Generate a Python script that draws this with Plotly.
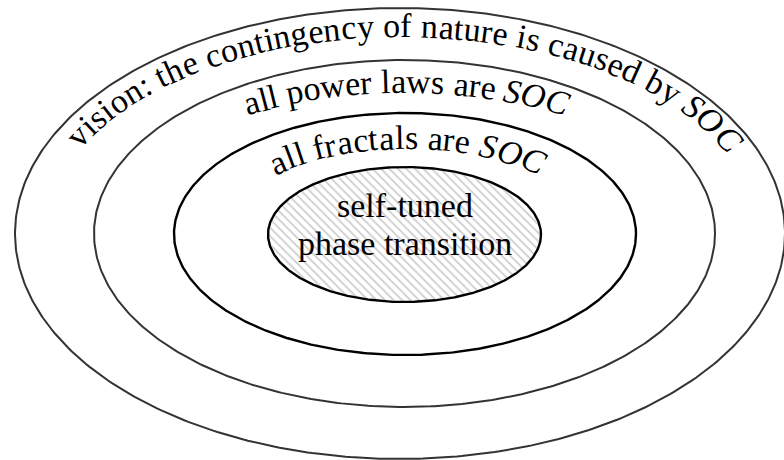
import numpy as np
import plotly.graph_objects as go

W, H = 784, 460

# ---- nested ellipses (drawing units = pixels of the canvas) ----
ELLIPSE_NAMES = ["vision", "power laws", "fractals", "self-tuned phase transition"]
ELLIPSE_CX = [400.0, 404.5, 405.0, 404.5]
ELLIPSE_CY = [233.5, 233.5, 234.0, 234.5]
ELLIPSE_RX = [385.0, 310.5, 231.0, 136.5]
ELLIPSE_RY = [225.5, 173.5, 121.0, 67.5]
ELLIPSE_COLOR = ["#333333", "#333333", "#000000", "#000000"]
ELLIPSE_WIDTH = [2.0, 2.0, 2.4, 2.4]

# ---- curved labels ----
ARC_TEXT = ["vision: the contingency of nature is caused by ", "all power laws are ", "all fractals are "]
ARC_ITALIC = ["SOC", "SOC", "SOC"]
ARC_CX = [402.0, 405.0, 407.0]
ARC_CY = [233.5, 233.5, 234.0]
ARC_RX = [356.0, 290.0, 181.0]
ARC_RY = [196.5, 140.5, 85.0]
ARC_START_X = [80.0, 247.0, 275.0]
ARC_END_X = [728.0, 565.0, 540.0]

# ---- centre label ----
CENTER_LINES = ["self-tuned", "phase transition"]
CENTER_BASELINE_Y = [217.0, 255.0]
CENTER_X = 405.0

FONT = "Liberation Serif"
FS = 34

ROMAN_W = {" ": 250, "a": 444, "b": 500, "c": 444, "d": 500, "e": 444, "f": 333, "g": 500,
           "h": 500, "i": 278, "l": 278, "n": 500, "o": 500, "p": 500, "r": 333, "s": 389,
           "t": 278, "u": 500, "v": 500, "w": 722, "y": 500, ":": 278, "-": 333}
ITALIC_W = {"S": 500, "O": 722, "C": 667}

fig = go.Figure()

for i in range(len(ELLIPSE_CX)):
    t = np.linspace(0, 2 * np.pi, 500)
    x = ELLIPSE_CX[i] + ELLIPSE_RX[i] * np.cos(t)
    y = ELLIPSE_CY[i] + ELLIPSE_RY[i] * np.sin(t)
    kw = {}
    if i == len(ELLIPSE_CX) - 1:
        kw = dict(fill="toself", fillcolor="white",
                  fillpattern=dict(shape="\\", fgcolor="#9a9a9a", bgcolor="white",
                                   size=6, solidity=0.3))
    fig.add_trace(go.Scatter(x=x, y=y, mode="lines", name=ELLIPSE_NAMES[i],
                             line=dict(color=ELLIPSE_COLOR[i], width=ELLIPSE_WIDTH[i]),
                             hoverinfo="skip", showlegend=False, **kw))

annotations = []
OFF = 0.3375 * FS

for j in range(len(ARC_TEXT)):
    chars = [(c, False) for c in ARC_TEXT[j]] + [(c, True) for c in ARC_ITALIC[j]]
    widths = [(ITALIC_W[c] if it else ROMAN_W[c]) for c, it in chars]
    cx, cy, rx, ry = ARC_CX[j], ARC_CY[j], ARC_RX[j], ARC_RY[j]
    t0 = np.arccos((ARC_START_X[j] - cx) / rx)
    t1 = np.arccos((ARC_END_X[j] - cx) / rx)
    ts = np.linspace(t0, t1, 5000)
    xs = cx + rx * np.cos(ts)
    ys = cy - ry * np.sin(ts)
    s = np.concatenate([[0], np.cumsum(np.hypot(np.diff(xs), np.diff(ys)))])
    k = s[-1] / sum(widths)
    cum = 0.0
    for (c, it), w in zip(chars, widths):
        sc = (cum + w / 2) * k
        cum += w
        if c == " ":
            continue
        t = np.interp(sc, s, ts)
        bx = cx + rx * np.cos(t)
        by = cy - ry * np.sin(t)
        dx, dy = rx * np.sin(t), ry * np.cos(t)
        n = np.hypot(dx, dy)
        dx, dy = dx / n, dy / n
        ux, uy = dy, -dx
        ang = float(np.degrees(np.arctan2(dy, dx)))
        annotations.append(dict(
            x=bx + ux * OFF, y=by + uy * OFF, xref="x", yref="y",
            text=f"<i>{c}</i>" if it else c, showarrow=False, textangle=ang,
            xanchor="center", yanchor="middle",
            font=dict(family=FONT, size=FS, color="black")))

for line, by in zip(CENTER_LINES, CENTER_BASELINE_Y):
    annotations.append(dict(
        x=CENTER_X, y=by - OFF, xref="x", yref="y", text=line, showarrow=False,
        xanchor="center", yanchor="middle",
        font=dict(family=FONT, size=FS, color="black")))

fig.update_layout(
    width=W, height=H, margin=dict(l=0, r=0, t=0, b=0),
    paper_bgcolor="white", plot_bgcolor="white",
    xaxis=dict(range=[0, W], visible=False, fixedrange=True),
    yaxis=dict(range=[H, 0], visible=False, fixedrange=True),
    annotations=annotations, showlegend=False,
)

fig.write_html("out.html", post_script="document.body.style.margin='0';",
               config={"displayModeBar": False})
